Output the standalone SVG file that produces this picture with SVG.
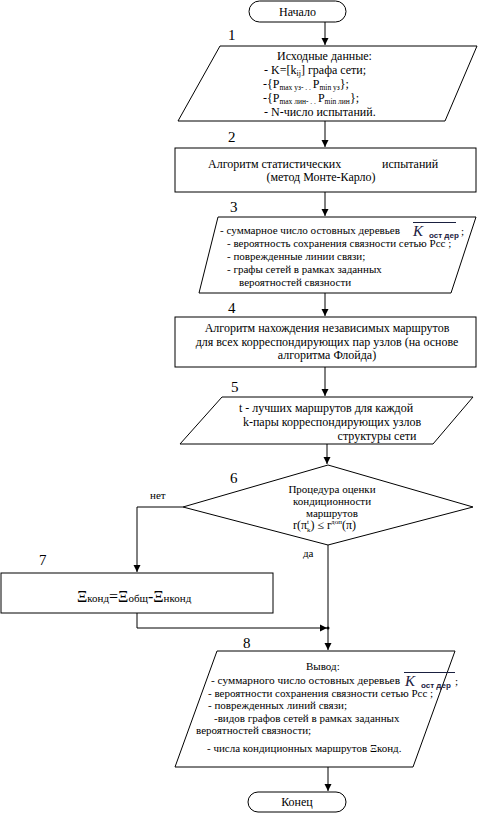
<svg xmlns="http://www.w3.org/2000/svg" width="478" height="814" viewBox="0 0 478 814">
<defs>
<marker id="arr" markerUnits="userSpaceOnUse" markerWidth="8" markerHeight="8" refX="7" refY="4" orient="auto">
<path d="M0,0.5 L7,4 L0,7.5 Z" fill="#000"/>
</marker>
<style>
.s{fill:#fff;stroke:#000;stroke-width:1}
.t{font-family:"Liberation Serif","Times New Roman",serif;font-size:12px;fill:#000}
.m{font-family:"Liberation Serif","Times New Roman",serif;font-size:11px;fill:#000}
.n{font-family:"Liberation Serif","Times New Roman",serif;font-size:15px;fill:#000}
.c{fill:none;stroke:#000;stroke-width:1}
.K{font-family:"Liberation Serif",serif;font-style:italic;font-size:15px;fill:#1a2040}
.ks{font-family:"Liberation Sans",sans-serif;font-weight:bold;font-size:8px;fill:#1a2040}
</style>
</defs>
<rect width="478" height="814" fill="#fff"/>

<g id="connectors">
<path class="c" d="M325,22 V45" marker-end="url(#arr)"/>
<path class="c" d="M325,121 V147" marker-end="url(#arr)"/>
<path class="c" d="M325,192 V216" marker-end="url(#arr)"/>
<path class="c" d="M325,293 V316" marker-end="url(#arr)"/>
<path class="c" d="M325,367 V396" marker-end="url(#arr)"/>
<path class="c" d="M327,444 V464" marker-end="url(#arr)"/>
<path class="c" d="M183,507 H137 V572" marker-end="url(#arr)"/>
<path class="c" d="M137,613 V628 H327" marker-end="url(#arr)"/>
<path class="c" d="M328,545 V650" marker-end="url(#arr)"/>
<circle cx="328" cy="628" r="1.5" fill="#000"/>
<path class="c" d="M328,767 V791" marker-end="url(#arr)"/>
<text class="m" x="150" y="499">нет</text>
<text class="m" x="303" y="557">да</text>
</g>

<g id="start">
<rect class="s" x="249" y="1" width="97" height="21" rx="10.5"/>
<text class="t" x="297.5" y="16" text-anchor="middle">Начало</text>
</g>

<g id="node1">
<text class="n" x="228" y="40">1</text>
<path class="s" d="M220,46 H477 L445,121 H178 Z"/>
<text class="t" x="277" y="60">Исходные данные:</text>
<text class="t" x="264" y="74">- K=[k<tspan font-size="8" dy="2">ij</tspan><tspan dy="-2">]  графа сети;</tspan></text>
<text class="t" x="263" y="88">-{P<tspan font-size="7.5" dy="2">max уз- . . </tspan><tspan dy="-2">P</tspan><tspan font-size="7.5" dy="2">min уз</tspan><tspan dy="-2">};</tspan></text>
<text class="t" x="263" y="102">-{P<tspan font-size="7.5" dy="2">max лин- . . </tspan><tspan dy="-2">P</tspan><tspan font-size="7.5" dy="2">min лин</tspan><tspan dy="-2">};</tspan></text>
<text class="t" x="264" y="116">- N-число испытаний.</text>
</g>

<g id="node2">
<text class="n" x="228" y="142">2</text>
<rect class="s" x="175" y="148" width="301" height="44"/>
<text class="t" x="208" y="168">Алгоритм статистических</text>
<text class="t" x="382" y="168">испытаний</text>
<text class="t" x="321" y="181" text-anchor="middle">(метод Монте-Карло)</text>
</g>

<g id="node3">
<text class="n" x="230" y="212">3</text>
<path class="s" d="M218,217 H476 L451,293 H199 Z"/>
<text class="m" x="220" y="234"><tspan textLength="180" lengthAdjust="spacingAndGlyphs">- суммарное число остовных деревьев</tspan><tspan class="K" x="413" dy="2">K</tspan><tspan class="ks" x="429" dy="2">ост дер</tspan><tspan x="461" dy="-3">;</tspan></text>
<line x1="413" y1="222.5" x2="456" y2="222.5" stroke="#1a2040" stroke-width="1"/>
<text class="m" x="227" y="247">- вероятность сохранения связности сетью Рсс ;</text>
<text class="m" x="227" y="260">- поврежденные линии связи;</text>
<text class="m" x="227" y="273">- графы сетей в рамках заданных</text>
<text class="m" x="239" y="286">вероятностей связности</text>
</g>

<g id="node4">
<text class="n" x="228" y="313">4</text>
<rect class="s" x="175" y="317" width="301" height="50"/>
<text class="t" x="327" y="332" text-anchor="middle">Алгоритм нахождения независимых маршрутов</text>
<text class="t" x="327" y="346" text-anchor="middle">для всех корреспондирующих пар узлов (на основе</text>
<text class="t" x="327" y="359" text-anchor="middle">алгоритма Флойда)</text>
</g>

<g id="node5">
<text class="n" x="231" y="392">5</text>
<path class="s" d="M222,397 H473 L433,444 H180 Z"/>
<text class="t" x="326" y="412" text-anchor="middle">t - лучших маршрутов для каждой</text>
<text class="t" x="332" y="426" text-anchor="middle">k-пары корреспондирующих узлов</text>
<text class="t" x="377" y="440" text-anchor="middle">структуры сети</text>
</g>

<g id="node6">
<text class="n" x="230" y="483">6</text>
<path class="s" d="M328,465 L473,507 L328,545 L183,507 Z"/>
<text class="m" x="332" y="493" text-anchor="middle">Процедура оценки</text>
<text class="m" x="332" y="505" text-anchor="middle">кондиционности</text>
<text class="m" x="332" y="517" text-anchor="middle">маршрутов</text>
<text class="t" x="293" y="529">r(π<tspan font-size="7" dy="-5">t</tspan><tspan font-size="7" dx="-2" dy="8">k</tspan><tspan dy="-3">) ≤ r</tspan><tspan font-size="7" dy="-5">доп</tspan><tspan dy="5">(π)</tspan></text>
</g>

<g id="node7">
<text class="n" x="39" y="565">7</text>
<rect class="s" x="1" y="573" width="272" height="40"/>
<text class="t" x="77" y="602"><tspan font-size="16">Ξ</tspan><tspan font-size="11">конд</tspan><tspan font-size="16">=Ξ</tspan><tspan font-size="11">общ</tspan><tspan font-size="16">-Ξ</tspan><tspan font-size="11">нконд</tspan></text>
</g>

<g id="node8">
<text class="n" x="243" y="648">8</text>
<path class="s" d="M217,651 H455 L413,767 H175 Z"/>
<text class="m" x="306" y="670">Вывод:</text>
<text class="m" x="211" y="684"><tspan textLength="189" lengthAdjust="spacingAndGlyphs">- суммарного число остовных деревьев</tspan><tspan class="K" x="405" dy="2">K</tspan><tspan class="ks" x="421" dy="2">ост дер</tspan><tspan x="455" dy="-3">;</tspan></text>
<line x1="404" y1="672.5" x2="455" y2="672.5" stroke="#1a2040" stroke-width="1"/>
<text class="m" x="208" y="697">- вероятности сохранения связности сетью Рсс ;</text>
<text class="m" x="208" y="709">- поврежденных линий связи;</text>
<text class="m" x="214" y="722">-видов графов сетей в рамках заданных</text>
<text class="m" x="196" y="734">вероятностей связности;</text>
<text class="m" x="207" y="752">- числа кондиционных маршрутов Ξконд.</text>
</g>

<g id="end">
<rect class="s" x="248" y="792" width="98" height="20" rx="10"/>
<text class="t" x="297" y="806" text-anchor="middle">Конец</text>
</g>
</svg>
